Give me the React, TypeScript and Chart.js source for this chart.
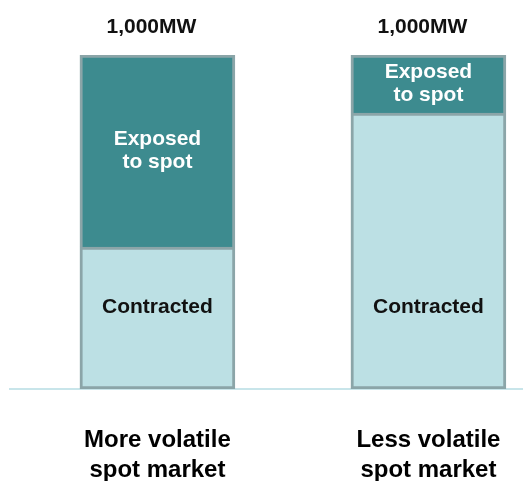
import React, { useEffect, useRef } from 'react';
import { Chart, registerables } from 'chart.js';

Chart.register(...registerables);

const categories: string[][] = [
  ['More volatile', 'spot market'],
  ['Less volatile', 'spot market'],
];
const contracted = [425, 826];
const exposed = [575, 174];
const seriesNames: string[][] = [['Contracted'], ['Exposed', 'to spot']];
const unit = 'MW';

const FONT = "'Liberation Sans', Arial, sans-serif";

const barText = {
  id: 'barText',
  afterDatasetsDraw(chart: any) {
    const ctx: CanvasRenderingContext2D = chart.ctx;
    const yScale = chart.scales.y;
    ctx.save();
    ctx.textAlign = 'center';
    ctx.textBaseline = 'alphabetic';
    ctx.font = `bold 21px ${FONT}`;
    const lineH = 23.5;
    const cap = 7.5;
    chart.data.datasets.forEach((ds: any, di: number) => {
      const meta = chart.getDatasetMeta(di);
      const lines: string[] = ds.textLines;
      ctx.fillStyle = ds.textColor;
      meta.data.forEach((el: any) => {
        const center =
          ds.labelAt != null ? yScale.getPixelForValue(ds.labelAt) : (el.y + el.base) / 2 - 2;
        lines.forEach((t, k) => {
          ctx.fillText(t, el.x, center + (k - (lines.length - 1) / 2) * lineH + cap);
        });
      });
    });
    // totals
    const last = chart.getDatasetMeta(chart.data.datasets.length - 1);
    ctx.font = `bold 21px ${FONT}`;
    ctx.fillStyle = '#111111';
    last.data.forEach((el: any, j: number) => {
      const total = contracted[j] + exposed[j];
      ctx.fillText(`${total.toLocaleString('en-US')}${unit}`, el.x - 6, el.y - 22);
    });
    ctx.restore();
  },
};

export default function App() {
  const ref = useRef<HTMLCanvasElement | null>(null);
  useEffect(() => {
    if (!ref.current) return;
    const chart = new Chart(ref.current, {
      type: 'bar',
      data: {
        datasets: [
          {
            label: seriesNames[0].join(' '),
            data: contracted.map((v, i) => ({ x: i, y: v })),
            backgroundColor: '#bce0e4',
            borderColor: '#8ba5a8',
            borderWidth: 3,
            borderSkipped: false,
            barThickness: 155,
            textLines: seriesNames[0],
            textColor: '#111111',
            labelAt: 251,
          } as any,
          {
            label: seriesNames[1].join(' '),
            data: exposed.map((v, i) => ({ x: i, y: v })),
            backgroundColor: '#3d8b8f',
            borderColor: '#8ba5a8',
            borderWidth: 3,
            borderSkipped: 'start',
            barThickness: 155,
            textLines: seriesNames[1],
            textColor: '#ffffff',
          } as any,
        ],
      },
      options: {
        animation: false,
        responsive: true,
        maintainAspectRatio: false,
        layout: { padding: { top: 55, left: 10, right: 0, bottom: 0 } },
        plugins: {
          legend: { display: false },
          tooltip: { enabled: false },
        },
        scales: {
          x: {
            type: 'linear',
            stacked: true,
            offset: false,
            bounds: 'data',
            min: -0.544,
            max: 1.349,
            grid: { display: false, offset: false },
            border: { display: true, color: '#c8e5ea', width: 2 },
            afterBuildTicks: (s: any) => {
              s.ticks = categories.map((_, i) => ({ value: i }));
            },
            afterFit: (s: any) => {
              s.height = 92;
              s.paddingLeft = 0;
              s.paddingRight = 0;
            },
            ticks: {
              autoSkip: false,
              maxRotation: 0,
              padding: 28,
              color: '#000000',
              font: { family: FONT, size: 24, weight: 'bold', lineHeight: 1.27 },
              callback: (v: any) => categories[Math.round(Number(v))] ?? '',
            },
          },
          y: {
            display: false,
            stacked: true,
            min: 0,
            max: 1000,
          },
        },
      },
      plugins: [barText],
    } as any);
    return () => chart.destroy();
  }, []);
  return (
    <div style={{ position: 'absolute', left: 0, top: 0, width: 523, height: 481 }}>
      <canvas ref={ref} />
    </div>
  );
}
